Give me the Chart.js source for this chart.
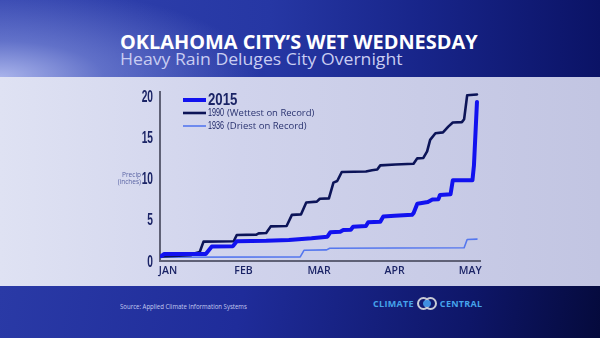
<!DOCTYPE html>
<html>
<head>
<meta charset="utf-8">
<script src="https://cdn.jsdelivr.net/npm/chart.js@4.4.1/dist/chart.umd.min.js"></script>
<style>
  html, body { margin: 0; padding: 0; }
  body { width: 600px; height: 338px; position: relative; overflow: hidden; font-family: "Open Sans", sans-serif; }
  #top { position: absolute; left: 0; top: 0; width: 600px; height: 77px;
    background:
      radial-gradient(ellipse 260px 90px at 0% 100%, rgba(175,185,238,0.95) 0%, rgba(130,145,220,0.6) 40%, rgba(80,95,190,0) 100%),
      linear-gradient(90deg, #3243ae 0%, #2637a4 45%, #18258a 70%, #0b1366 100%); }
  #panel { position: absolute; left: 0; top: 77px; width: 600px; height: 209px;
    background: linear-gradient(90deg, #dfe2f3 0%, #d0d3ec 40%, #c2c5e2 100%); }
  #bottom { position: absolute; left: 0; top: 286px; width: 600px; height: 52px;
    background: linear-gradient(100deg, #2a3aa6 0%, #1f2c9a 40%, #0e1668 78%, #050a3c 100%); }
  .fit { position: absolute; white-space: nowrap; transform-origin: 0 0; }
  #title { left: 120px; top: 28px; color: #fff; font: 700 20px "Open Sans", sans-serif; }
  #subtitle { left: 120px; top: 47px; color: #c9cdf2; font: 400 16.5px "Open Sans", sans-serif; }
  #source { left: 120px; top: 302px; color: #c4cbf0; font: 400 7px "Open Sans", sans-serif; }
  #logo { position: absolute; left: 373px; top: 296px; height: 14px; display: flex; align-items: center; color: #45a3ea; font: 700 9px "Open Sans", sans-serif; letter-spacing: 0.3px; }
  #logo .rings { position: relative; width: 20px; height: 13px; margin: 0 3px; }
  #logo .ring { position: absolute; top: 0; width: 9px; height: 9px; border: 2px solid #c9ccd6; border-radius: 50%; }
  #logo .dot { position: absolute; left: 6px; top: 3px; width: 8px; height: 7px; background: #3f8fe0; border-radius: 50%; }
  #wrap { position: absolute; left: 0; top: 0; width: 600px; height: 338px; }
  #yname { position: absolute; left: 104px; top: 171px; width: 37px; text-align: right; color: #5a64a4; font: 400 6.5px/7px "Open Sans", sans-serif; }
</style>
</head>
<body>
<div id="top"></div>
<div id="panel"></div>
<div id="bottom"></div>
<div id="title" class="fit" data-w="358">OKLAHOMA CITY’S WET WEDNESDAY</div>
<div id="subtitle" class="fit" data-w="283">Heavy Rain Deluges City Overnight</div>
<div id="source" class="fit" data-w="127">Source: Applied Climate Information Systems</div>
<div id="logo">CLIMATE<span class="rings"><span class="ring" style="left:0"></span><span class="ring" style="left:7px"></span><span class="dot"></span></span>CENTRAL</div>
<div id="wrap"><canvas id="c" width="600" height="338"></canvas></div>
<div id="yname">Precip<br>(inches)</div>
<script>
// x is measured in months from Jan 1 (0 = JAN, 4 = MAY); y is cumulative precipitation in inches
const MONTHS = ['JAN', 'FEB', 'MAR', 'APR', 'MAY'];
const Y_TICKS = [0, 5, 10, 15, 20];

const x2015 = [-0.09, -0.05, 0.50, 0.58, 0.86, 0.91, 1.30, 1.60, 1.90, 2.11, 2.15, 2.28, 2.32, 2.42, 2.45, 2.62, 2.65, 2.81, 2.85, 3.00, 3.23, 3.25, 3.30, 3.44, 3.50, 3.58, 3.60, 3.74, 3.77, 4.03, 4.05, 4.09];
const y2015 = [0.60, 0.85, 0.85, 1.75, 1.80, 2.40, 2.45, 2.55, 2.75, 2.95, 3.50, 3.55, 3.75, 3.80, 4.15, 4.25, 4.70, 4.75, 5.40, 5.50, 5.60, 5.80, 6.95, 7.15, 7.45, 7.50, 8.00, 8.10, 9.80, 9.80, 11.6, 19.3];

const x1990 = [-0.09, 0.30, 0.36, 0.42, 0.47, 0.87, 0.91, 1.17, 1.20, 1.30, 1.36, 1.57, 1.64, 1.76, 1.83, 1.97, 2.01, 2.13, 2.19, 2.24, 2.30, 2.62, 2.70, 2.77, 2.81, 3.01, 3.25, 3.30, 3.38, 3.43, 3.47, 3.54, 3.64, 3.71, 3.77, 3.89, 3.92, 3.96, 4.09];
const y1990 = [0.55, 0.70, 0.95, 1.10, 2.35, 2.40, 3.15, 3.20, 3.35, 3.40, 4.20, 4.25, 5.60, 5.65, 7.10, 7.20, 7.55, 7.60, 9.50, 9.70, 10.8, 10.85, 11.0, 11.1, 11.6, 11.7, 11.8, 12.45, 12.5, 13.3, 14.7, 15.5, 15.6, 16.3, 16.8, 16.85, 17.2, 20.1, 20.2];

const x1936 = [-0.09, 1.75, 1.80, 2.10, 2.14, 3.92, 3.96, 4.09];
const y1936 = [0.45, 0.50, 1.30, 1.35, 1.55, 1.60, 2.60, 2.65];

const SERIES = [
  { label: '2015', note: '', xs: x2015, ys: y2015, color: '#1212ef', width: 4 },
  { label: '1990', note: '(Wettest on Record)', xs: x1990, ys: y1990, color: '#0c1458', width: 2.6 },
  { label: '1936', note: '(Driest on Record)', xs: x1936, ys: y1936, color: '#5577ee', width: 1.6 },
];

// squeeze the header/footer strings to their set widths
document.querySelectorAll('.fit').forEach(el => {
  el.style.transform = `scaleX(${el.dataset.w / el.offsetWidth})`;
});

const NAVY = '#1b2466';

// draw text squashed horizontally, like a condensed face
function narrowText(ctx, text, x, y, sx, align) {
  ctx.save();
  ctx.translate(x, y);
  ctx.scale(sx, 1);
  ctx.textAlign = align;
  ctx.fillText(text, 0, 0);
  ctx.restore();
}

// y tick labels in a tall condensed face, plus the legend inside the plot
const condensedLabels = {
  id: 'condensedLabels',
  afterDraw(chart) {
    const { ctx, scales: { y } } = chart;
    ctx.save();
    ctx.fillStyle = NAVY;
    ctx.textBaseline = 'middle';
    ctx.font = 'bold 17px "Liberation Sans", sans-serif';
    Y_TICKS.forEach(v => narrowText(ctx, String(v), 153, y.getPixelForValue(v) + 1, 0.6, 'right'));

    // legend rows
    const rows = [{ y: 100, size: 16.5, bold: true, sx: 0.8 }, { y: 113, size: 10, bold: false, sx: 0.72 }, { y: 126, size: 10, bold: false, sx: 0.72 }];
    SERIES.forEach((s, i) => {
      const r = rows[i];
      ctx.strokeStyle = s.color;
      ctx.lineWidth = s.width;
      ctx.beginPath();
      ctx.moveTo(183, r.y);
      ctx.lineTo(206, r.y);
      ctx.stroke();
      ctx.fillStyle = NAVY;
      ctx.font = `${r.bold ? 'bold ' : ''}${r.size}px "Liberation Sans", sans-serif`;
      narrowText(ctx, s.label, 208, r.y + 0.5, r.sx, 'left');
      if (s.note) {
        ctx.fillStyle = '#2a3370';
        ctx.font = '9.5px "Open Sans", sans-serif';
        ctx.textAlign = 'left';
        ctx.fillText(s.note, 227, r.y + 0.5);
      }
    });
    ctx.restore();
  },
};

new Chart(document.getElementById('c'), {
  type: 'line',
  data: {
    datasets: SERIES.map(s => ({
      label: s.label,
      data: s.xs.map((x, i) => ({ x, y: s.ys[i] })),
      borderColor: s.color,
      borderWidth: s.width,
      pointRadius: 0,
      tension: 0,
      borderJoinStyle: 'round',
      borderCapStyle: 'round',
    })),
  },
  options: {
    responsive: false,
    animation: false,
    layout: { padding: { left: 0, top: 92, right: 120, bottom: 57 } },
    plugins: { legend: { display: false }, tooltip: { enabled: false } },
    scales: {
      x: {
        type: 'linear', min: -0.106, max: 4.13,
        grid: { display: false, drawTicks: false },
        border: { display: true, color: '#5f6176', width: 2 },
        afterBuildTicks: axis => { axis.ticks = MONTHS.map((m, i) => ({ value: i })); },
        afterFit: axis => { axis.height = 20; },
        ticks: { padding: 4, color: NAVY, font: { size: 10.5, weight: '600', family: '"Open Sans", sans-serif' }, maxRotation: 0,
          callback: v => MONTHS[v] },
      },
      y: {
        min: 0, max: 20.5,
        grid: { display: false, drawTicks: false },
        border: { display: true, color: '#5f6176', width: 2 },
        afterBuildTicks: axis => { axis.ticks = Y_TICKS.map(v => ({ value: v })); },
        afterFit: axis => { axis.width = 160; },
        ticks: { display: false },
      },
    },
  },
  plugins: [condensedLabels],
});
</script>
</body>
</html>
